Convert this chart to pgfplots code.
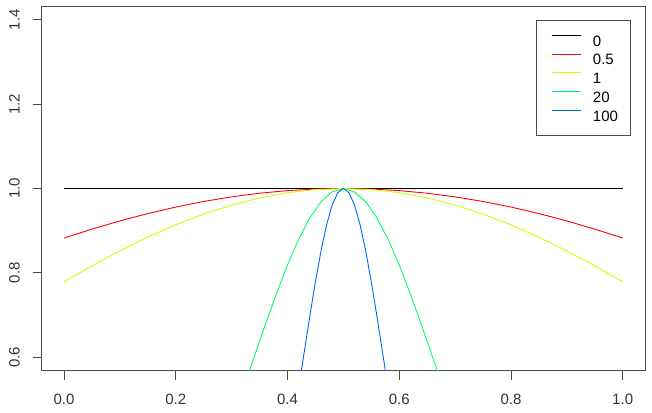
\documentclass[border=0pt]{standalone}
\usepackage{pgfplots}
\pgfplotsset{compat=1.18}
\usepackage{fontspec}
\setmainfont{Liberation Sans}

\definecolor{rred}{HTML}{FF0000}
\definecolor{ryel}{HTML}{CCFF00}
\definecolor{rgrn}{HTML}{00FF66}
\definecolor{rblu}{HTML}{0066FF}

\begin{document}
\begin{tikzpicture}
\path[use as bounding box] (0,0) rectangle (652pt,412pt);
\begin{axis}[
    at={(41.7pt,41.3pt)}, anchor=south west,
    scale only axis,
    width=603.3pt, height=364.4pt,
    xmin=-0.04, xmax=1.04,
    ymin=0.568, ymax=1.432,
    xtick={0,0.2,...,1.0},
    ytick={0.6,0.8,...,1.41},
    xticklabels={0.0,0.2,0.4,0.6,0.8,1.0},
    yticklabels={0.6,0.8,1.0,1.2,1.4},
    tick pos=left,
    tick align=outside,
    major tick length=9pt,
    axis line style={black!70, line width=0.8pt},
    tick style={black!70, line width=0.8pt},
    ticklabel style={font=\fontsize{15}{18}\selectfont, text=black!80},
    /pgf/number format/assume math mode=true,
    yticklabel style={xshift=-13pt, rotate=90, anchor=base},
    xticklabel style={anchor=north, yshift=-11pt},
    legend cell align=left,
    legend style={
        at={(0.9751,0.9605)}, anchor=north east,
        outer sep=0pt,
        font=\fontsize{15}{18}\selectfont,
        draw=black!70, line width=0.8pt,
        inner xsep=12pt, inner ysep=14pt,
        nodes={inner sep=0pt, text height=11.5pt, text depth=0pt, draw=none},
        row sep=7.25pt,
        /tikz/every odd column/.append style={column sep=12pt},
    },
    legend image code/.code={
        \path[draw=none] (0pt,0pt) -- (32pt,0pt);
        \draw[#1, line width=0.9pt] (3pt,5pt) -- (32pt,5pt);
    },
    every axis plot/.append style={line width=0.9pt},
]
% k = 0
\addplot[black] coordinates {(0,1) (1,1)};
% k = 0.5
\addplot[rred] coordinates {
(0.00,0.8825) (0.05,0.9037) (0.10,0.9231) (0.15,0.9406) (0.20,0.9560)
(0.25,0.9692) (0.30,0.9802) (0.35,0.9888) (0.40,0.9950) (0.45,0.9988)
(0.50,1.0000)
(0.55,0.9988) (0.60,0.9950) (0.65,0.9888) (0.70,0.9802) (0.75,0.9692)
(0.80,0.9560) (0.85,0.9406) (0.90,0.9231) (0.95,0.9037) (1.00,0.8825)};
% k = 1
\addplot[ryel] coordinates {
(0.00,0.7788) (0.05,0.8167) (0.10,0.8521) (0.15,0.8847) (0.20,0.9139)
(0.25,0.9394) (0.30,0.9608) (0.35,0.9778) (0.40,0.9900) (0.45,0.9975)
(0.50,1.0000)
(0.55,0.9975) (0.60,0.9900) (0.65,0.9778) (0.70,0.9608) (0.75,0.9394)
(0.80,0.9139) (0.85,0.8847) (0.90,0.8521) (0.95,0.8167) (1.00,0.7788)};
% k = 20
\addplot[rgrn] coordinates {
(0.30,0.4493) (0.32,0.5231) (0.34,0.5993) (0.36,0.6757) (0.38,0.7498)
(0.40,0.8187) (0.42,0.8799) (0.44,0.9305) (0.46,0.9685) (0.48,0.9920)
(0.50,1.0000)
(0.52,0.9920) (0.54,0.9685) (0.56,0.9305) (0.58,0.8799) (0.60,0.8187)
(0.62,0.7498) (0.64,0.6757) (0.66,0.5993) (0.68,0.5231) (0.70,0.4493)};
% k = 100
\addplot[rblu] coordinates {
(0.40,0.3679) (0.41,0.4449) (0.42,0.5273) (0.43,0.6126) (0.44,0.6977)
(0.45,0.7788) (0.46,0.8521) (0.47,0.9139) (0.48,0.9608) (0.49,0.9900)
(0.50,1.0000)
(0.51,0.9900) (0.52,0.9608) (0.53,0.9139) (0.54,0.8521) (0.55,0.7788)
(0.56,0.6977) (0.57,0.6126) (0.58,0.5273) (0.59,0.4449) (0.60,0.3679)};
\legend{0,0.5,1,20,100}
\end{axis}
\end{tikzpicture}
\end{document}
